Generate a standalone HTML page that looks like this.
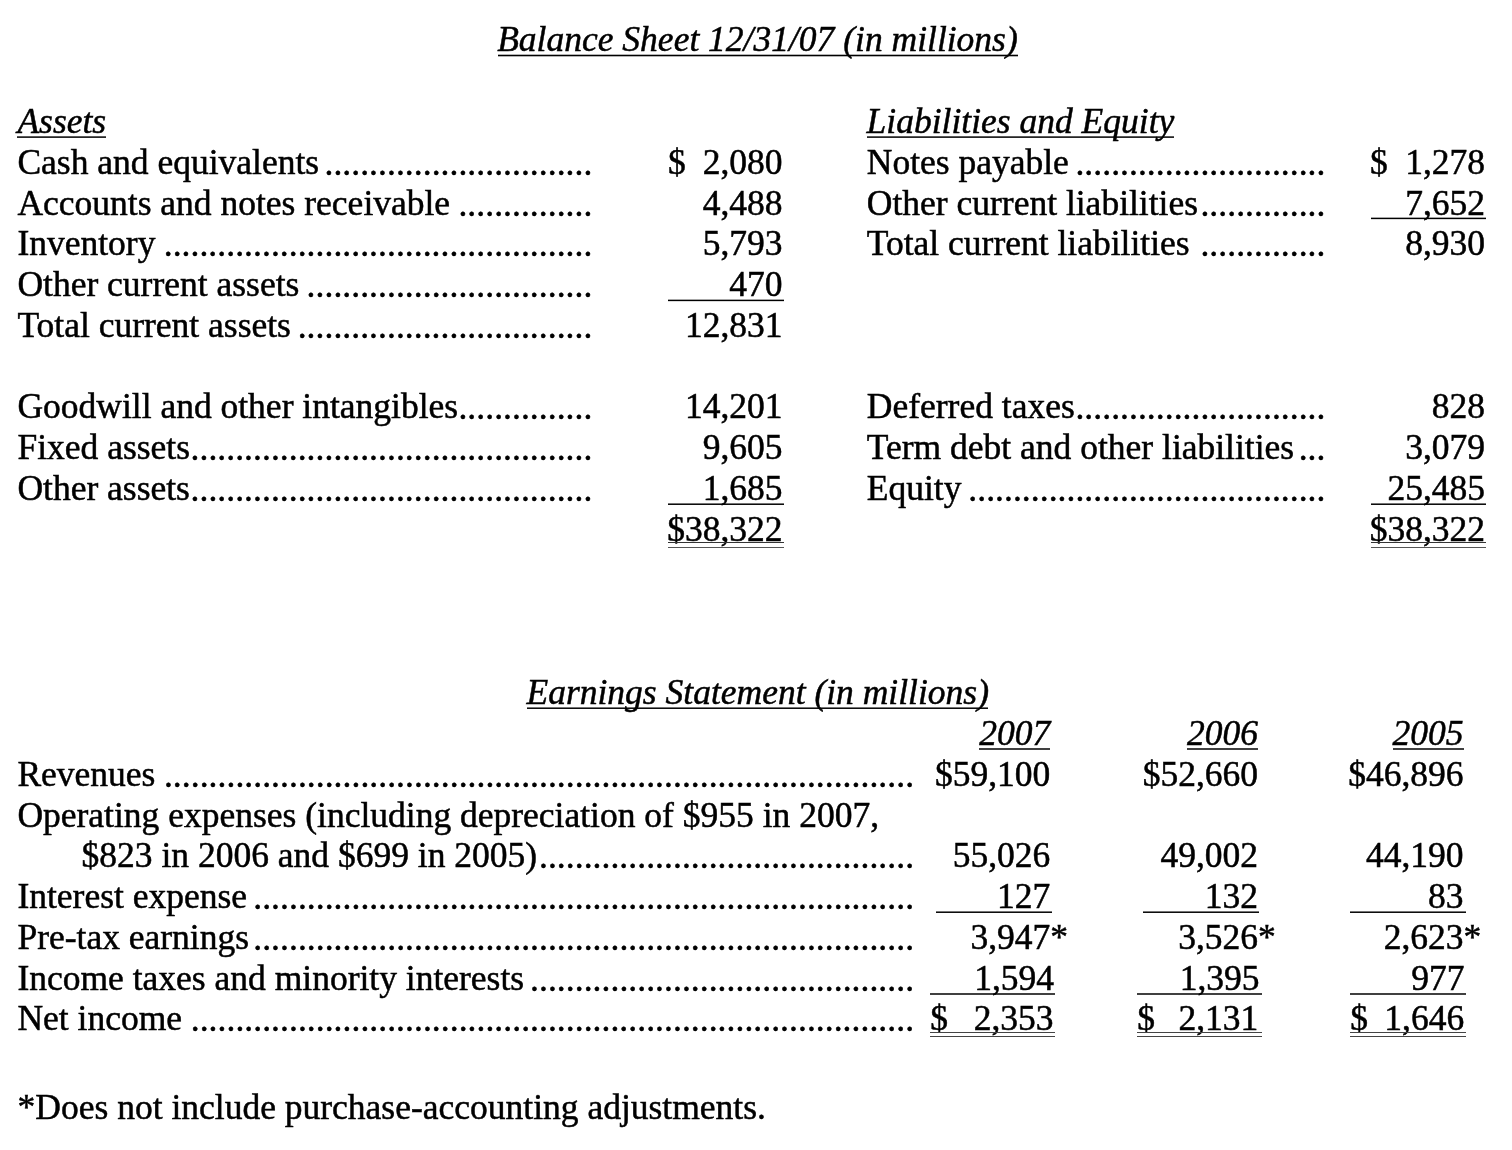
<!DOCTYPE html>
<html><head><meta charset="utf-8"><style>
html,body{margin:0;padding:0;background:#fff;width:1512px;height:1150px;overflow:hidden}
body{-webkit-font-smoothing:antialiased;filter:grayscale(1)}
.t{position:absolute;font-family:"Liberation Serif",serif;font-size:35.5px;line-height:40px;white-space:pre;color:#000;-webkit-text-stroke:0.5px #000}
.i{font-style:italic}
.l{position:absolute}
</style></head><body>
<div class="t i" style="left:497.20px;top:19px">Balance Sheet 12/31/07 (in millions)</div>
<div class="l" style="left:497.9px;width:520.1px;top:54px;height:1px;background:rgba(0,0,0,0.30)"></div>
<div class="l" style="left:497.9px;width:520.1px;top:55px;height:1px;background:rgba(0,0,0,1.00)"></div>
<div class="l" style="left:497.9px;width:520.1px;top:56px;height:1px;background:rgba(0,0,0,0.30)"></div>
<div class="t i" style="left:17.40px;top:101px">Assets</div>
<div class="l" style="left:17.1px;width:88.8px;top:136px;height:1px;background:rgba(0,0,0,0.65)"></div>
<div class="l" style="left:17.1px;width:88.8px;top:137px;height:1px;background:rgba(0,0,0,0.85)"></div>
<div class="t" style="left:17.40px;top:142px">Cash and equivalents</div>
<div class="t" style="left:17.40px;top:183px">Accounts and notes receivable</div>
<div class="t" style="left:17.40px;top:223px">Inventory</div>
<div class="t" style="left:17.40px;top:264px">Other current assets</div>
<div class="t" style="left:17.40px;top:305px">Total current assets</div>
<div class="t" style="left:17.40px;top:386px">Goodwill and other intangibles</div>
<div class="t" style="left:17.40px;top:427px">Fixed assets</div>
<div class="t" style="left:17.40px;top:468px">Other assets</div>
<div class="t" style="right:729.50px;top:142px">2,080</div>
<div class="t" style="right:729.50px;top:183px">4,488</div>
<div class="t" style="right:729.50px;top:223px">5,793</div>
<div class="t" style="right:729.50px;top:264px">470</div>
<div class="t" style="right:729.50px;top:305px">12,831</div>
<div class="t" style="right:729.50px;top:386px">14,201</div>
<div class="t" style="right:729.50px;top:427px">9,605</div>
<div class="t" style="right:729.50px;top:468px">1,685</div>
<div class="t" style="right:729.50px;top:509px">$38,322</div>
<div class="t" style="left:668.00px;top:142px">$</div>
<div class="l" style="left:668.1px;width:115.6px;top:299px;height:1px;background:rgba(0,0,0,0.35)"></div>
<div class="l" style="left:668.1px;width:115.6px;top:300px;height:1px;background:rgba(0,0,0,1.00)"></div>
<div class="l" style="left:668.1px;width:115.6px;top:301px;height:1px;background:rgba(0,0,0,0.15)"></div>
<div class="l" style="left:668.1px;width:115.6px;top:503px;height:1px;background:rgba(0,0,0,0.55)"></div>
<div class="l" style="left:668.1px;width:115.6px;top:504px;height:1px;background:rgba(0,0,0,0.95)"></div>
<div class="l" style="left:668.1px;width:115.6px;top:542.00px;height:1.0px;background:#333"></div>
<div class="l" style="left:668.1px;width:115.6px;top:546.50px;height:1.2px;background:#555"></div>
<div class="t i" style="left:866.60px;top:101px">Liabilities and Equity</div>
<div class="l" style="left:866.6px;width:307.4px;top:136px;height:1px;background:rgba(0,0,0,0.65)"></div>
<div class="l" style="left:866.6px;width:307.4px;top:137px;height:1px;background:rgba(0,0,0,0.85)"></div>
<div class="t" style="left:866.80px;top:142px">Notes payable</div>
<div class="t" style="left:866.80px;top:183px">Other current liabilities</div>
<div class="t" style="left:866.80px;top:223px">Total current liabilities</div>
<div class="t" style="left:866.80px;top:386px">Deferred taxes</div>
<div class="t" style="left:866.80px;top:427px">Term debt and other liabilities</div>
<div class="t" style="left:866.80px;top:468px">Equity</div>
<div class="t" style="right:27.00px;top:142px">1,278</div>
<div class="t" style="right:27.00px;top:183px">7,652</div>
<div class="t" style="right:27.00px;top:223px">8,930</div>
<div class="t" style="left:1370.00px;top:142px">$</div>
<div class="t" style="right:27.00px;top:386px">828</div>
<div class="t" style="right:27.00px;top:427px">3,079</div>
<div class="t" style="right:27.00px;top:468px">25,485</div>
<div class="t" style="right:27.00px;top:509px">$38,322</div>
<div class="l" style="left:1370.8px;width:115.1px;top:217px;height:1px;background:rgba(0,0,0,0.35)"></div>
<div class="l" style="left:1370.8px;width:115.1px;top:218px;height:1px;background:rgba(0,0,0,1.00)"></div>
<div class="l" style="left:1370.8px;width:115.1px;top:219px;height:1px;background:rgba(0,0,0,0.15)"></div>
<div class="l" style="left:1370.7px;width:115.3px;top:503px;height:1px;background:rgba(0,0,0,0.55)"></div>
<div class="l" style="left:1370.7px;width:115.3px;top:504px;height:1px;background:rgba(0,0,0,0.95)"></div>
<div class="l" style="left:1370.7px;width:115.3px;top:542.30px;height:1.0px;background:#333"></div>
<div class="l" style="left:1370.7px;width:115.3px;top:546.60px;height:1.2px;background:#555"></div>
<div class="t" style="left:324.47px;top:143px;letter-spacing:0.055px">..............................</div>
<div class="t" style="left:458.42px;top:184px;letter-spacing:0.055px">...............</div>
<div class="t" style="left:163.73px;top:224px;letter-spacing:0.055px">................................................</div>
<div class="t" style="left:306.61px;top:265px;letter-spacing:0.055px">................................</div>
<div class="t" style="left:297.68px;top:306px;letter-spacing:0.055px">.................................</div>
<div class="t" style="left:458.42px;top:387px;letter-spacing:0.055px">...............</div>
<div class="t" style="left:190.52px;top:428px;letter-spacing:0.055px">.............................................</div>
<div class="t" style="left:190.52px;top:469px;letter-spacing:0.055px">.............................................</div>
<div class="t" style="left:1075.43px;top:143px;letter-spacing:0.055px">............................</div>
<div class="t" style="left:1200.45px;top:184px;letter-spacing:0.055px">..............</div>
<div class="t" style="left:1200.45px;top:224px;letter-spacing:0.055px">..............</div>
<div class="t" style="left:1075.43px;top:387px;letter-spacing:0.055px">............................</div>
<div class="t" style="left:1298.68px;top:428px;letter-spacing:0.055px">...</div>
<div class="t" style="left:968.27px;top:469px;letter-spacing:0.055px">........................................</div>
<div class="t i" style="left:526.50px;top:672px">Earnings Statement (in millions)</div>
<div class="l" style="left:527.0px;width:461.0px;top:707px;height:1px;background:rgba(0,0,0,0.55)"></div>
<div class="l" style="left:527.0px;width:461.0px;top:708px;height:1px;background:rgba(0,0,0,0.95)"></div>
<div class="t" style="left:17.40px;top:754px">Revenues</div>
<div class="t" style="left:17.40px;top:795px">Operating expenses (including depreciation of $955 in 2007,</div>
<div class="t" style="left:81.60px;top:835px">$823 in 2006 and $699 in 2005)</div>
<div class="t" style="left:17.40px;top:876px">Interest expense</div>
<div class="t" style="left:17.40px;top:917px">Pre-tax earnings</div>
<div class="t" style="left:17.40px;top:958px">Income taxes and minority interests</div>
<div class="t" style="left:17.40px;top:998px">Net income</div>
<div class="t i" style="right:461.70px;top:713px">2007</div>
<div class="t i" style="right:254.00px;top:713px">2006</div>
<div class="t i" style="right:48.50px;top:713px">2005</div>
<div class="l" style="left:979.0px;width:71.1px;top:748px;height:1px;background:rgba(0,0,0,0.75)"></div>
<div class="l" style="left:979.0px;width:71.1px;top:749px;height:1px;background:rgba(0,0,0,0.75)"></div>
<div class="l" style="left:1186.6px;width:71.2px;top:748px;height:1px;background:rgba(0,0,0,0.75)"></div>
<div class="l" style="left:1186.6px;width:71.2px;top:749px;height:1px;background:rgba(0,0,0,0.75)"></div>
<div class="l" style="left:1392.8px;width:70.8px;top:748px;height:1px;background:rgba(0,0,0,0.75)"></div>
<div class="l" style="left:1392.8px;width:70.8px;top:749px;height:1px;background:rgba(0,0,0,0.75)"></div>
<div class="t" style="right:461.70px;top:754px">$59,100</div>
<div class="t" style="right:254.00px;top:754px">$52,660</div>
<div class="t" style="right:48.50px;top:754px">$46,896</div>
<div class="t" style="right:461.70px;top:835px">55,026</div>
<div class="t" style="right:254.00px;top:835px">49,002</div>
<div class="t" style="right:48.50px;top:835px">44,190</div>
<div class="t" style="right:461.70px;top:876px">127</div>
<div class="t" style="right:254.00px;top:876px">132</div>
<div class="t" style="right:48.50px;top:876px">83</div>
<div class="t" style="right:443.95px;top:917px">3,947*</div>
<div class="t" style="right:236.25px;top:917px">3,526*</div>
<div class="t" style="right:30.75px;top:917px">2,623*</div>
<div class="t" style="right:458.00px;top:958px">1,594</div>
<div class="t" style="right:252.50px;top:958px">1,395</div>
<div class="t" style="right:47.50px;top:958px">977</div>
<div class="t" style="right:458.50px;top:998px">2,353</div>
<div class="t" style="right:253.70px;top:998px">2,131</div>
<div class="t" style="right:47.80px;top:998px">1,646</div>
<div class="t" style="left:930.30px;top:998px">$</div>
<div class="t" style="left:1137.30px;top:998px">$</div>
<div class="t" style="left:1350.30px;top:998px">$</div>
<div class="l" style="left:936.2px;width:115.5px;top:911px;height:1px;background:rgba(0,0,0,0.55)"></div>
<div class="l" style="left:936.2px;width:115.5px;top:912px;height:1px;background:rgba(0,0,0,0.95)"></div>
<div class="l" style="left:1143.1px;width:115.7px;top:911px;height:1px;background:rgba(0,0,0,0.55)"></div>
<div class="l" style="left:1143.1px;width:115.7px;top:912px;height:1px;background:rgba(0,0,0,0.95)"></div>
<div class="l" style="left:1350.2px;width:115.7px;top:911px;height:1px;background:rgba(0,0,0,0.55)"></div>
<div class="l" style="left:1350.2px;width:115.7px;top:912px;height:1px;background:rgba(0,0,0,0.95)"></div>
<div class="l" style="left:930.4px;width:124.3px;top:993px;height:1px;background:rgba(0,0,0,0.75)"></div>
<div class="l" style="left:930.4px;width:124.3px;top:994px;height:1px;background:rgba(0,0,0,0.75)"></div>
<div class="l" style="left:930.4px;width:124.3px;top:1032.00px;height:1.0px;background:#444"></div>
<div class="l" style="left:930.4px;width:124.3px;top:1036.00px;height:1.0px;background:#444"></div>
<div class="l" style="left:1137.4px;width:124.3px;top:993px;height:1px;background:rgba(0,0,0,0.75)"></div>
<div class="l" style="left:1137.4px;width:124.3px;top:994px;height:1px;background:rgba(0,0,0,0.75)"></div>
<div class="l" style="left:1137.4px;width:124.3px;top:1032.00px;height:1.0px;background:#444"></div>
<div class="l" style="left:1137.4px;width:124.3px;top:1036.00px;height:1.0px;background:#444"></div>
<div class="l" style="left:1350.2px;width:115.7px;top:993px;height:1px;background:rgba(0,0,0,0.75)"></div>
<div class="l" style="left:1350.2px;width:115.7px;top:994px;height:1px;background:rgba(0,0,0,0.75)"></div>
<div class="l" style="left:1350.2px;width:115.7px;top:1032.00px;height:1.0px;background:#444"></div>
<div class="l" style="left:1350.2px;width:115.7px;top:1036.00px;height:1.0px;background:#444"></div>
<div class="t" style="left:163.95px;top:755px;letter-spacing:0.055px">....................................................................................</div>
<div class="t" style="left:539.01px;top:836px;letter-spacing:0.055px">..........................................</div>
<div class="t" style="left:253.25px;top:877px;letter-spacing:0.055px">..........................................................................</div>
<div class="t" style="left:253.25px;top:918px;letter-spacing:0.055px">..........................................................................</div>
<div class="t" style="left:530.08px;top:959px;letter-spacing:0.055px">...........................................</div>
<div class="t" style="left:190.74px;top:999px;letter-spacing:0.055px">.................................................................................</div>
<div class="t" style="left:17.60px;top:1087px">*Does not include purchase-accounting adjustments.</div>
</body></html>
